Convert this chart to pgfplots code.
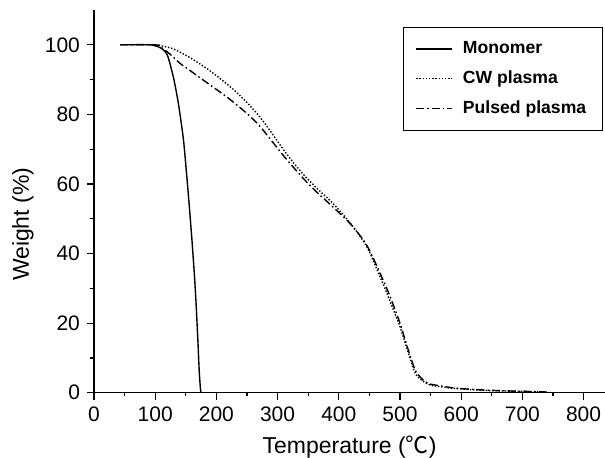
\documentclass[border=0pt]{standalone}
\usepackage{fontspec}
\setmainfont{Liberation Sans}
\newfontfamily\cjk{Noto Sans CJK SC}
\usepackage{pgfplots}
\pgfplotsset{compat=1.18}

\begin{document}
\begin{tikzpicture}
\begin{axis}[
  scale only axis, width=255.5pt, height=191.35pt,
  xmin=0, xmax=835, ymin=0, ymax=110,
  axis x line*=bottom, axis y line*=left,
  axis line style={-, line width=0.6pt},
  xtick={0,100,...,800}, ytick={0,20,...,100},
  minor x tick num=1, minor y tick num=1,
  tick align=outside, major tick length=3.5pt, minor tick length=1.8pt,
  tick style={black, line width=0.6pt},
  /pgf/number format/assume math mode=true,
  ticklabel style={font=\fontsize{10.5}{12}\selectfont},
  xlabel={Temperature ({\cjk ℃})},
  ylabel={Weight (\%)},
  label style={font=\fontsize{11.5}{13}\selectfont},
  xlabel style={at={(axis description cs:0.5,0)}, anchor=center, yshift=-27.2pt},
  ylabel style={at={(axis description cs:-0.139,0.44)}, anchor=center},
  legend style={at={(0.605,0.955)}, anchor=north west, draw=black,
    font=\bfseries\fontsize{8.8}{10}\selectfont, inner xsep=6pt, inner ysep=5pt,
    row sep=3pt, cells={anchor=west}},
  legend cell align=left,
  legend image code/.code={\draw[#1] (0pt,0pt) -- (18pt,0pt); \path (21pt,0pt);},
]
\addplot[black, line width=0.7pt, smooth, tension=0.4] coordinates {
(43,100) (90,100) (100,99.7) (110,99) (120,97) (130,90.5) (138,83) (146,73)
(151,63.5) (156,53) (160,44) (164,34) (167,25) (170,14) (172,6) (174,1) (175,0)
};
\addplot[black, line width=0.7pt, forget plot] coordinates {(175,0) (270,0)};
\addlegendentry{Monomer}
\addplot[black, line width=0.7pt, smooth, tension=0.5, dash pattern=on 0.7pt off 0.9pt] coordinates {
(43,100) (100,100) (110,99.7) (130,98.8) (157,96.3) (180,93.7) (195,91.8) (211,89.6)
(230,86.8) (249,83.6) (266,80.3) (280,77.2) (293,74) (309,70) (325,66.3) (337,63.8)
(348,61.6) (370,57.8) (391,54.3) (420,48.5) (446,41.9) (467,33.5) (480,28) (490,23.5)
(500,19) (510,13.5) (520,8) (527,5) (540,3) (549,2.2) (575,1.5) (598,1.1) (647,0.6)
(700,0.4) (740,0.2)
};
\addlegendentry{CW plasma}
\addplot[black, line width=0.7pt, smooth, tension=0.5, dash pattern=on 4pt off 1.5pt on 0.8pt off 1.5pt] coordinates {
(43,100) (100,100) (110,99.2) (125,97.2) (141,94.6) (157,92.6) (175,90.3) (195,87.8)
(220,84.6) (249,80.4) (270,76.8) (293,71.8) (315,67) (342,61.6) (365,57.5) (391,53.3)
(420,48.3) (446,42.3) (467,34.5) (480,29.3) (490,24.8) (500,20) (510,14.3) (520,8.8)
(527,5.8) (540,3.3) (549,2.5) (575,1.7) (598,1.2) (647,0.7) (700,0.4) (740,0.2)
};
\addlegendentry{Pulsed plasma}
\end{axis}
\pgfresetboundingbox
\useasboundingbox (-47pt,-32.15pt) rectangle (255.5pt,196.35pt);
\end{tikzpicture}
\end{document}
